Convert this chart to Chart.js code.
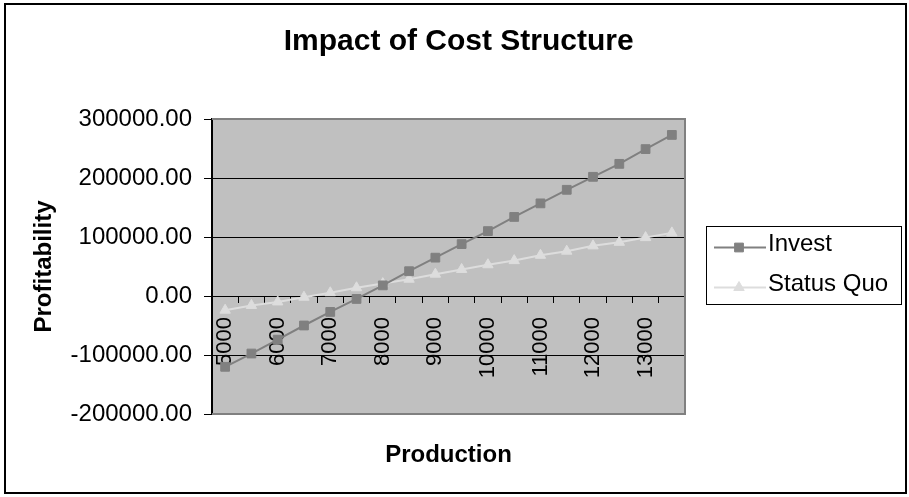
<!DOCTYPE html>
<html>
<head>
<meta charset="utf-8">
<title>Impact of Cost Structure</title>
<script src="https://cdn.jsdelivr.net/npm/chart.js@4/dist/chart.umd.min.js"></script>
<style>
  html, body { margin: 0; padding: 0; background: #ffffff; }
  canvas { display: block; }
</style>
</head>
<body>
<canvas id="chart" width="909" height="497"></canvas>
<script>
// Production levels (units)
const categories = ['5000', '5500', '6000', '6500', '7000', '7500', '8000', '8500', '9000',
                    '9500', '10000', '10500', '11000', '11500', '12000', '12500', '13000', '13500'];

// Profit for each option at each production level
const investProfit = [-120000, -97500, -74000, -50000, -27000, -5000, 18000, 42000, 65000,
                      88000, 110000, 134000, 157000, 180000, 202000, 224000, 249000, 273000];
const statusQuoProfit = [-24000, -16000, -10000, -2000, 5500, 14000, 21000, 28500, 37000,
                         45000, 53000, 60000, 69000, 76000, 85000, 91000, 99000, 107000];

const seriesNames = ['Invest', 'Status Quo'];

// Value axis range
const yMin = -200000;
const yMax = 300000;
const yStep = 100000;

const chartTitle = 'Impact of Cost Structure';
const xAxisTitle = 'Production';
const yAxisTitle = 'Profitability';

const FONT = '"Liberation Sans", Arial, Helvetica, sans-serif';
const INVEST_COLOR = '#808080';
const STATUS_QUO_COLOR = '#DDDDDD';
const PLOT_BG = '#C0C0C0';
const PLOT_EDGE = '#808080';

// Grey plot background, grey frame on top/right/bottom, outer chart frame, side legend
const frame = {
  id: 'frame',
  beforeDraw(chart) {
    const { ctx, chartArea: a } = chart;
    ctx.save();
    ctx.fillStyle = '#ffffff';
    ctx.fillRect(0, 0, chart.width, chart.height);
    ctx.fillStyle = PLOT_BG;
    ctx.fillRect(a.left, a.top, a.right - a.left, a.bottom - a.top);
    ctx.restore();
  },
  beforeDatasetsDraw(chart) {
    const { ctx, chartArea: a } = chart;
    ctx.save();
    ctx.strokeStyle = PLOT_EDGE;
    ctx.lineWidth = 2;
    ctx.beginPath();
    ctx.moveTo(a.left, a.top);
    ctx.lineTo(a.right, a.top);
    ctx.lineTo(a.right, a.bottom);
    ctx.lineTo(a.left, a.bottom);
    ctx.stroke();
    ctx.restore();
  },
  afterDraw(chart) {
    const ctx = chart.ctx;
    ctx.save();
    // outer chart frame
    ctx.strokeStyle = '#000000';
    ctx.lineWidth = 2;
    ctx.strokeRect(5, 4, 901, 489);

    // legend
    const box = { x: 706.5, y: 226.5, w: 195, h: 78 };
    ctx.fillStyle = '#ffffff';
    ctx.fillRect(box.x, box.y, box.w, box.h);
    ctx.lineWidth = 1;
    ctx.strokeStyle = '#000000';
    ctx.strokeRect(box.x, box.y, box.w, box.h);

    chart.data.datasets.forEach((ds, i) => {
      const lineY = 247.5 + i * 40;
      const textY = 244 + i * 40;
      ctx.strokeStyle = ds.borderColor;
      ctx.lineWidth = ds.borderWidth;
      ctx.beginPath();
      ctx.moveTo(714, lineY);
      ctx.lineTo(766, lineY);
      ctx.stroke();
      ctx.fillStyle = ds.pointBackgroundColor;
      ctx.strokeStyle = ds.pointBorderColor;
      ctx.lineWidth = 1;
      Chart.helpers.drawPoint(ctx, {
        pointStyle: ds.pointStyle, radius: ds.pointRadius, borderWidth: 1, rotation: 0
      }, 739, lineY);
      ctx.fillStyle = '#000000';
      ctx.font = '24px ' + FONT;
      ctx.textAlign = 'left';
      ctx.textBaseline = 'middle';
      ctx.fillText(ds.label, 768, textY);
    });
    ctx.restore();
  }
};

new Chart(document.getElementById('chart'), {
  type: 'line',
  data: {
    labels: categories,
    datasets: [
      {
        label: seriesNames[0],
        data: investProfit,
        borderColor: INVEST_COLOR,
        backgroundColor: INVEST_COLOR,
        borderWidth: 2,
        pointStyle: 'rect',
        pointRadius: 6.2,
        pointBackgroundColor: INVEST_COLOR,
        pointBorderColor: INVEST_COLOR,
        pointBorderWidth: 1,
        tension: 0,
        fill: false
      },
      {
        label: seriesNames[1],
        data: statusQuoProfit,
        borderColor: STATUS_QUO_COLOR,
        backgroundColor: STATUS_QUO_COLOR,
        borderWidth: 2,
        pointStyle: 'triangle',
        pointRadius: 6,
        pointBackgroundColor: STATUS_QUO_COLOR,
        pointBorderColor: STATUS_QUO_COLOR,
        pointBorderWidth: 1,
        tension: 0,
        fill: false
      }
    ]
  },
  options: {
    responsive: false,
    animation: false,
    devicePixelRatio: 1,
    layout: { padding: { left: 26, right: 17.6, top: 23.3, bottom: 23.6 } },
    plugins: {
      legend: { display: false },
      tooltip: { enabled: false },
      title: {
        display: true,
        text: chartTitle,
        color: '#000000',
        font: { family: FONT, size: 30, weight: 'bold', lineHeight: 1.2 },
        padding: { top: 0, bottom: 59.7 }
      }
    },
    scales: {
      x: {
        type: 'category',
        position: { y: 0 },
        offset: true,
        grid: {
          offset: true,
          drawOnChartArea: false,
          drawTicks: true,
          tickLength: 6,
          color: '#000000',
          lineWidth: 1
        },
        border: { display: true, color: '#000000', width: 1 },
        ticks: {
          autoSkip: false,
          minRotation: 90,
          maxRotation: 90,
          padding: 15,
          color: '#000000',
          font: { family: FONT, size: 22 },
          callback: function (value, index) {
            return index % 2 === 0 ? this.getLabelForValue(value) : '';
          }
        }
      },
      xTitle: {
        type: 'category',
        position: 'bottom',
        labels: categories,
        grid: { display: false, drawTicks: false },
        border: { display: false },
        ticks: { display: false },
        title: {
          display: true,
          text: xAxisTitle,
          color: '#000000',
          font: { family: FONT, size: 24, weight: 'bold', lineHeight: 1.2 },
          padding: { top: 4, bottom: 4 }
        },
        afterFit(scale) { scale.height = 59.4; }
      },
      y: {
        type: 'linear',
        position: 'left',
        min: yMin,
        max: yMax,
        grid: {
          color: '#000000',
          lineWidth: 1,
          drawTicks: true,
          tickLength: 8
        },
        border: { display: true, color: '#000000', width: 2 },
        ticks: {
          stepSize: yStep,
          padding: 12,
          color: '#000000',
          font: { family: FONT, size: 24 },
          callback: (value) => Number(value).toFixed(2)
        },
        title: {
          display: true,
          text: yAxisTitle,
          color: '#000000',
          font: { family: FONT, size: 24, weight: 'bold', lineHeight: 1.2 },
          padding: { top: 4, bottom: 4 }
        },
        afterFit(scale) { scale.width = 186; }
      },
      legendSpace: {
        type: 'linear',
        position: 'right',
        grid: { display: false, drawTicks: false },
        border: { display: false },
        ticks: { display: false },
        afterFit(scale) { scale.width = 206.4; }
      }
    }
  },
  plugins: [frame]
});
</script>
</body>
</html>
